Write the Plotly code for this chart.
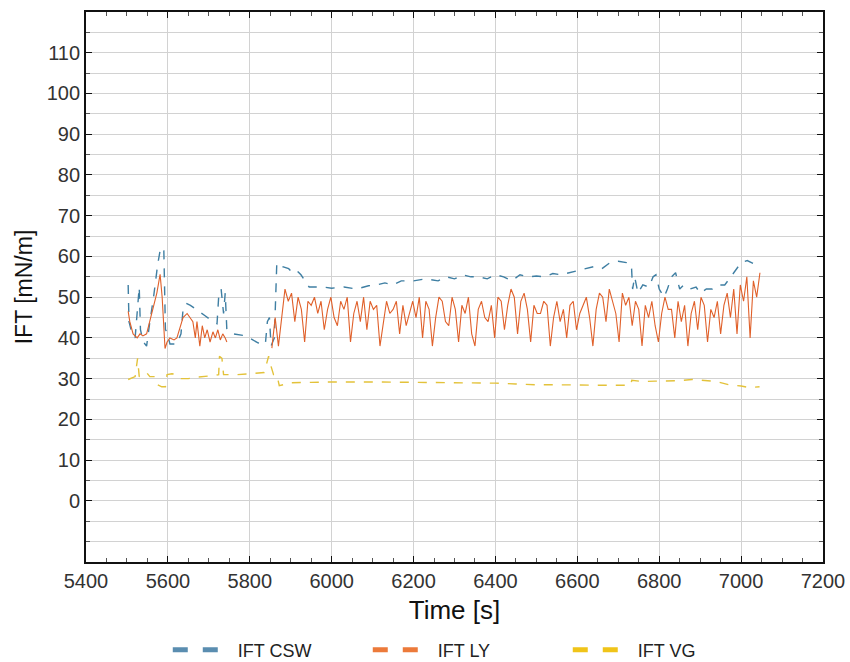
import plotly.graph_objects as go

# ---- IFT CSW (blue) ----
csw_t = [5503, 5505, 5510, 5520, 5530, 5533, 5540, 5548, 5556, 5565, 5575, 5582, 5590, 5594, 5598,
         5605, 5622, 5632, 5637, 5645, 5655, 5670, 5690, 5710, 5720, 5724, 5730, 5736, 5740, 5744,
         5760, 5790, 5808, 5820, 5838, 5843, 5848, 5852, 5860, 5866, 5880, 5895, 5905, 5915, 5925,
         5935, 5945, 5980, 6000, 6030, 6060, 6090, 6110, 6130, 6150, 6170, 6200, 6230, 6260, 6280,
         6300, 6320, 6340, 6360, 6380, 6400, 6420, 6440, 6460, 6480, 6500, 6520, 6540, 6560, 6580,
         6600, 6620, 6640, 6660, 6680, 6700, 6720, 6732, 6735, 6740, 6748, 6760, 6775, 6785, 6792,
         6800, 6812, 6820, 6830, 6840, 6850, 6860, 6875, 6890, 6900, 6915, 6930, 6945, 6960, 6975,
         6990, 7000, 7015, 7025, 7035, 7045]
csw_v = [53, 44, 42, 40, 52.5, 42, 39, 38, 44, 50, 58, 62, 62, 42, 41.5,
         38.5, 38.5, 41, 47, 48.5, 48, 47, 45.5, 44, 43.5, 50, 52, 46, 51, 42,
         41, 40.5, 39.6, 38.8, 38.4, 44, 45, 38, 40, 58.4, 57.5, 57, 56, 56.5, 55.5,
         54, 52.5, 52.5, 52.2, 52.5, 52, 52.8, 53, 53.5, 53, 54, 54, 54.5, 54, 55,
         54.5, 55.5, 55, 55, 54.5, 55.5, 55, 54, 55.5, 55, 55.2, 55, 55.8, 55.5, 56,
         56.5, 57, 57.5, 57, 58.5, 58.8, 58.5, 58, 52, 55, 51, 53, 52.5, 55, 55.5,
         52, 50, 52, 55, 56, 52, 53, 52, 52.5, 51, 52, 52, 53, 53, 55,
         57, 58.5, 59, 58.5, 58, 57.5]

# ---- IFT LY (orange) ----
ly_early_t = [5503, 5507, 5515, 5525, 5532, 5539, 5548, 5556, 5565, 5573, 5581, 5586, 5593,
              5598, 5605, 5615, 5622, 5630, 5637, 5647, 5654, 5661, 5667, 5671, 5678, 5684,
              5690, 5696, 5703, 5710, 5716, 5722, 5728, 5734, 5740, 5744]
ly_early_v = [46.5, 44, 41, 40, 41, 40.5, 41, 44, 48, 51, 55.6, 50, 37.4,
              39, 40, 39.5, 40, 43, 45, 46, 45, 44, 40, 44, 38, 43,
              40, 42, 39, 41.5, 40, 42, 39.5, 41, 40, 39]
ly_gap_t = [5760, 5800, 5840, 5854, 5862]
ly_gap_v = [None, None, None, 37.5, 45]
# dense record, sampled every 8 s from 5870 s
ly_dense_start = 5870
ly_dense_step = 8
ly_dense_v = [38, 45, 52, 49, 51, 44, 50, 47, 39, 49,
              48, 50, 46, 49, 42, 47, 50, 45, 43, 49,
              47, 50, 39, 46, 49, 44, 50, 42, 49, 47,
              48, 38, 44, 49, 46, 47, 49, 41, 48, 43,
              46, 49, 45, 50, 40, 49, 47, 38, 45, 50,
              49, 44, 43, 50, 47, 39, 48, 46, 50, 41,
              38, 47, 49, 45, 44, 48, 40, 50, 49, 42,
              48, 52, 50, 41, 49, 51, 47, 39, 48, 46,
              46, 49, 48, 38, 45, 49, 44, 47, 40, 48,
              49, 42, 46, 48, 50, 45, 38, 47, 51, 50,
              44, 52, 49, 46, 39, 51, 48, 50, 43, 49,
              47, 38, 48, 45, 49, 43, 39, 46, 50, 47,
              47, 40, 49, 44, 48, 38, 46, 49, 42, 50,
              48, 39, 47, 45, 49, 41, 48, 51, 45, 52,
              41, 53, 49, 55, 40, 54, 50, 56]

ly_t = ly_early_t + ly_gap_t + [ly_dense_start + i * ly_dense_step for i in range(len(ly_dense_v))]
ly_v = ly_early_v + ly_gap_v + ly_dense_v

# ---- IFT VG (yellow) ----
vg_t = [5503, 5520, 5526, 5530, 5540, 5548, 5556, 5568, 5575, 5585, 5594, 5598, 5610, 5622,
        5632, 5650, 5665, 5690, 5715, 5724, 5726, 5732, 5736, 5745, 5770, 5800, 5825, 5835,
        5842, 5846, 5852, 5858, 5866, 5872, 5885, 5900, 5950, 6000, 6100, 6200, 6300, 6350,
        6380, 6400, 6450, 6500, 6550, 6600, 6650, 6700, 6730, 6733, 6760, 6790, 6820, 6850,
        6880, 6910, 6940, 6970, 7000, 7020, 7045]
vg_v = [29.8, 30.5, 35, 30.5, 31.3, 31.5, 30.5, 30.5, 28.5, 28, 28, 31, 31.2, 31,
        30, 30, 30.3, 30.5, 30.8, 31, 35.5, 35, 31, 31, 31, 31.2, 31.3, 31.5,
        34, 35.5, 33, 31, 31, 28.3, 28.6, 29, 29.1, 29.2, 29.2, 29.1, 29, 29,
        28.8, 28.9, 28.7, 28.5, 28.5, 28.4, 28.4, 28.4, 28.4, 29.6, 29.3, 29.4, 29.5, 29.5,
        29.8, 29.6, 29.3, 28.5, 28.2, 27.8, 28]

series = [
    ("IFT CSW", csw_t, csw_v, "#3f7fa3", "#5a8db0", "dash", 1.4),
    ("IFT LY", ly_t, ly_v, "#e0602a", "#ec7a3a", "solid", 1.1),
    ("IFT VG", vg_t, vg_v, "#e3c23a", "#f0c419", "dash", 1.4),
]

fig = go.Figure()
for name, t, v, col, legcol, dsh, w in series:
    fig.add_trace(go.Scatter(x=t, y=v, mode="lines", name=name, showlegend=False,
                             line=dict(color=col, width=w, dash=dsh),
                             connectgaps=False))
for name, t, v, col, legcol, dsh, w in series:
    fig.add_trace(go.Scatter(x=[None], y=[None], mode="lines", name=name,
                             line=dict(color=legcol, width=5, dash="dash")))

font_fam = "Liberation Sans, Arial"
axis_common = dict(showline=True, linecolor="#111", linewidth=1.8, mirror="ticks",
                   ticks="inside", ticklen=6, tickcolor="#111", zeroline=False,
                   gridcolor="#d2d2d2", gridwidth=1,
                   tickfont=dict(family=font_fam, size=20, color="#333"))

fig.update_xaxes(range=[5400, 7200], dtick=200, tick0=5400,
                 minor=dict(dtick=50, ticks="inside", ticklen=4, tickcolor="#555", showgrid=False),
                 title=dict(text="Time [s]", font=dict(family=font_fam, size=26, color="#111"),
                            standoff=10),
                 **axis_common)
fig.update_yaxes(range=[-15, 120], tickvals=[0, 10, 20, 30, 40, 50, 60, 70, 80, 90, 100, 110],
                 minor=dict(tick0=0, dtick=5, ticks="inside", ticklen=4, tickcolor="#555",
                            showgrid=True, gridcolor="#d2d2d2", gridwidth=1),
                 title=dict(text="IFT [mN/m]", font=dict(family=font_fam, size=23, color="#111"),
                            standoff=8),
                 **axis_common)

fig.update_layout(
    width=850, height=662,
    margin=dict(l=86, r=27, t=12, b=100, autoexpand=False),
    paper_bgcolor="white", plot_bgcolor="white",
    legend=dict(orientation="h", x=0.518, xanchor="center", y=-0.16, yanchor="middle",
                font=dict(family=font_fam, size=18, color="#222"),
                itemwidth=60, tracegroupgap=0, entrywidthmode="pixels", entrywidth=125),
)

fig.write_html("out.html")
